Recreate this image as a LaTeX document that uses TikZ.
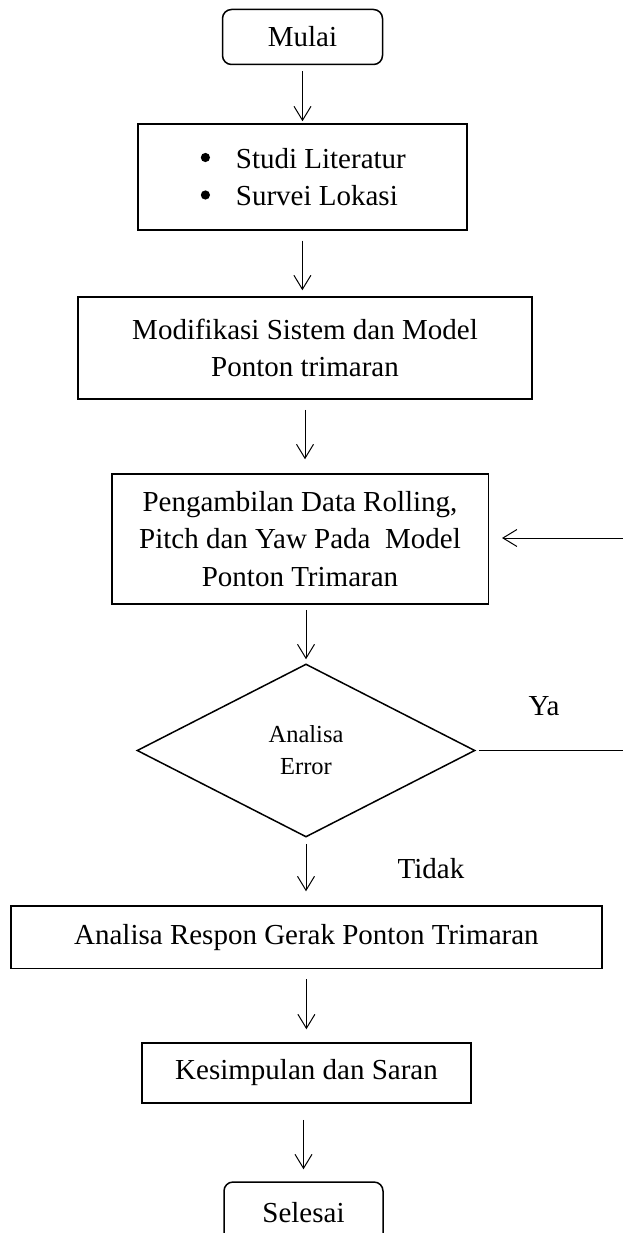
\documentclass[tikz,border=0pt]{standalone}
\usepackage{fontspec}
\setmainfont{Liberation Serif}
\usetikzlibrary{shapes.geometric,arrows.meta}
\newcommand{\bulletgap}{\hspace*{37pt}}
\begin{document}
\begin{tikzpicture}[x=1pt,y=-1pt,
  txt/.style={font=\fontsize{29}{37.5}\selectfont},
  box/.style={txt,draw,line width=1.5pt,inner sep=0pt,align=center},
  term/.style={box,rounded corners=9pt},
  decision/.style={draw,line width=1.5pt,diamond,inner sep=0pt,align=center,
    font=\fontsize{24.5}{32}\selectfont},
  arr/.style={line width=1pt,-{Straight Barb[length=14pt,width=17pt]}},
  plain/.style={line width=1pt},
  lbl/.style={txt,inner sep=0pt},
  dot/.style={fill=black},
]
\useasboundingbox (0,0) rectangle (623,1233);
\clip (0,0) rectangle (623,1233);

\node[term,minimum width=160pt,minimum height=55pt] (mulai) at (302.5,37) {Mulai};
\node[box,align=left,minimum width=329pt,minimum height=106pt] (b2) at (302.4,177)
  {\bulletgap Studi Literatur\\\bulletgap Survei Lokasi};
\fill[dot] ([xshift=-97pt,yshift=19.5pt]b2.center) circle (4.6pt);
\fill[dot] ([xshift=-97pt,yshift=-18pt]b2.center) circle (4.6pt);
\node[box,minimum width=454pt,minimum height=102pt] (b3) at (305,348)
  {Modifikasi Sistem dan Model\\Ponton trimaran};
\node[box,minimum width=376.5pt,minimum height=130pt] (b4) at (300,539)
  {Pengambilan Data Rolling,\\Pitch dan Yaw Pada\ \ Model\\Ponton Trimaran};
\node[decision,minimum width=338pt,minimum height=173pt] (dia) at (306,750.5)
  {Analisa\\Error};
\node[box,minimum width=591.3pt,minimum height=62.6pt] (b6) at (306.4,937.3)
  {Analisa Respon Gerak Ponton Trimaran};
\node[box,minimum width=329pt,minimum height=60pt] (b7) at (306.5,1073)
  {Kesimpulan dan Saran};
\node[term,minimum width=159pt,minimum height=62pt] (selesai) at (303.5,1213) {Selesai};

\node[lbl] (ya) at (544,706) {Ya};
\node[lbl] (tidak) at (431,869) {Tidak};

\coordinate (yaend) at (623,752);
\coordinate (fbstart) at (623,538);

\draw[arr,shorten <=6pt,shorten >=2pt] (mulai.south) -- (mulai.south |- b2.north);
\draw[arr,shorten <=10pt,shorten >=6pt] (b2.south) -- (b2.south |- b3.north);
\draw[arr,shorten <=10pt,shorten >=14pt] (b3.south) -- (b3.south |- b4.north);
\draw[arr,shorten <=5pt,shorten >=4pt] (b4.south -| dia.north) -- (dia.north);
\draw[arr,shorten <=6pt,shorten >=14pt] (dia.south) -- (dia.south |- b6.north);
\draw[arr,shorten <=10pt,shorten >=13pt] (b6.south) -- (b6.south |- b7.north);
\draw[arr,shorten <=16pt,shorten >=12pt] (b7.south -| selesai.north) -- (selesai.north);

\draw[plain,shorten <=3pt] (dia.east) -- (dia.east -| yaend);
\draw[arr,shorten >=13pt] (fbstart) -- (b4.east |- fbstart);
\end{tikzpicture}
\end{document}
